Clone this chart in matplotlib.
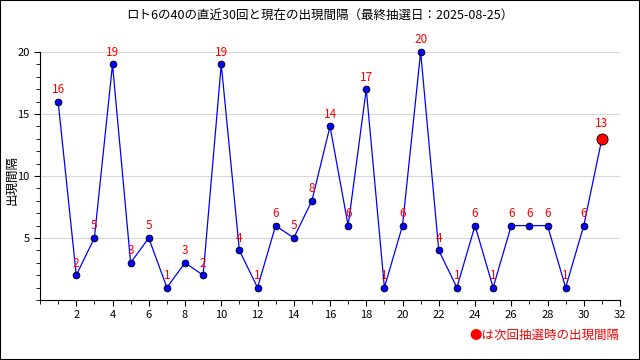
import matplotlib
matplotlib.use("Agg")
import matplotlib.pyplot as plt
from matplotlib.ticker import MultipleLocator

plt.rcParams['font.family'] = ['Noto Sans CJK JP', 'DejaVu Sans']

draws = list(range(1, 32))
gaps = [16, 2, 5, 19, 3, 5, 1, 3, 2, 19, 4, 1, 6, 5, 8, 14, 6, 17, 1, 6,
        20, 4, 1, 6, 1, 6, 6, 6, 1, 6, 13]

title = "ロト6の40の直近30回と現在の出現間隔（最終抽選日：2025-08-25）"

fig = plt.figure(figsize=(6.4, 3.6), dpi=100)
ax = fig.add_axes([0.0625, 0.1667, 0.9063, 0.6889])

ax.plot(draws, gaps, color="blue", linewidth=0.9, zorder=3)
ax.scatter(draws[:-1], gaps[:-1], s=24, color="blue",
           edgecolor="black", linewidth=0.6, zorder=4, clip_on=False)
ax.scatter(draws[-1:], gaps[-1:], s=64, color="red",
           edgecolor="black", linewidth=0.6, zorder=5, clip_on=False)

for x, y in zip(draws, gaps):
    off = 6 if x == draws[-1] else 4
    ax.annotate(str(y), (x, y), xytext=(0, off), textcoords="offset points",
                ha="center", va="bottom", color="red", fontsize=8.5,
                annotation_clip=False)

ax.set_xlim(0, 32)
ax.set_ylim(0, 20)
ax.xaxis.set_minor_locator(MultipleLocator(1))
ax.yaxis.set_minor_locator(MultipleLocator(1))
ax.set_xticks(range(2, 33, 2))
ax.set_yticks([5, 10, 15, 20])
ax.tick_params(axis="both", which="both", direction="out", labelsize=8)
ax.tick_params(which="major", length=4)
ax.tick_params(which="minor", length=3)

ax.grid(axis="y", color="#d8d8d8", linewidth=0.8)
ax.set_axisbelow(True)
ax.spines["top"].set_visible(False)
ax.spines["right"].set_visible(False)

fig.text(0.018, 0.5, "出現間隔", rotation=90, ha="center", va="center",
         fontsize=9)
fig.text(0.5, 0.955, title, ha="center", va="center", fontsize=9)
fig.text(0.968, 0.07, "●は次回抽選時の出現間隔", ha="right", va="center",
         color="red", fontsize=9)

fig.patches.append(plt.Rectangle((0, 0), 1, 1, transform=fig.transFigure,
                                 fill=False, edgecolor="black", linewidth=1.5))

fig.savefig("out.png", dpi=100)
